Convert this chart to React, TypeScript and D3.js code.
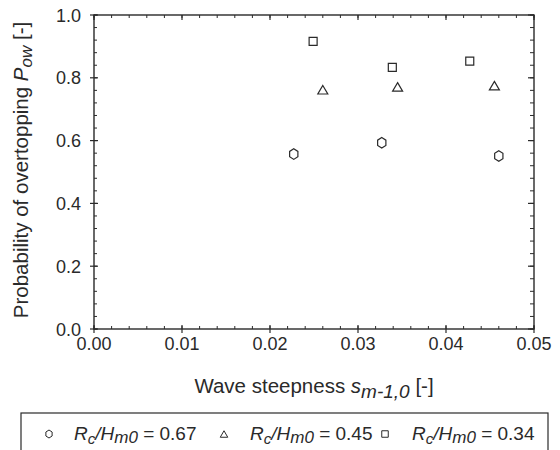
import React from "react";
import * as d3 from "d3";

const xTicks = [0, 0.01, 0.02, 0.03, 0.04, 0.05];
const yTicks = [0, 0.2, 0.4, 0.6, 0.8, 1.0];

const hexX = [0.0227, 0.0327, 0.046];
const hexY = [0.557, 0.593, 0.551];
const triX = [0.026, 0.0345, 0.0455];
const triY = [0.762, 0.771, 0.775];
const sqX = [0.0249, 0.0339, 0.0427];
const sqY = [0.916, 0.833, 0.853];

const legendValues = ["0.67", "0.45", "0.34"];

const W = 560;
const H = 450;
const L = 94, R = 534, T = 15, B = 329;

const x = d3.scaleLinear().domain([0, 0.05]).range([L, R]);
const y = d3.scaleLinear().domain([0, 1]).range([B, T]);

const ink = "#2a2a2a";
const font = "Arial, 'Liberation Sans', Helvetica, sans-serif";

function hexPath(cx: number, cy: number, r: number) {
  const pts: [number, number][] = [];
  for (let i = 0; i < 6; i++) {
    const a = (Math.PI / 3) * i - Math.PI / 2;
    pts.push([cx + r * 0.9 * Math.cos(a), cy + r * Math.sin(a)]);
  }
  return d3.line()(pts.concat([pts[0]])) + "Z";
}
function triPath(cx: number, cy: number, w: number, h: number) {
  const pts: [number, number][] = [
    [cx, cy - h / 2],
    [cx + w / 2, cy + h / 2],
    [cx - w / 2, cy + h / 2],
  ];
  return d3.line()(pts) + "Z";
}
function sqPath(cx: number, cy: number, s: number) {
  const pts: [number, number][] = [
    [cx - s / 2, cy - s / 2],
    [cx + s / 2, cy - s / 2],
    [cx + s / 2, cy + s / 2],
    [cx - s / 2, cy + s / 2],
  ];
  return d3.line()(pts) + "Z";
}

export default function App() {
  const xMinor = d3.range(0, 0.05 + 1e-9, 0.002);
  const yMinor = d3.range(0, 1 + 1e-9, 0.04);
  const fmt2 = d3.format(".2f");
  const fmt1 = d3.format(".1f");

  const legendItems = [
    { sx: 49, tx: 74 },
    { sx: 224, tx: 250 },
    { sx: 385, tx: 412 },
  ];
  const ly = 434;

  return (
    <svg width={W} height={H} style={{ position: "absolute", left: 0, top: 0, background: "#fff" }} fontFamily={font}>
      <rect x={0} y={0} width={W} height={H} fill="#fff" />
      {/* minor ticks */}
      {xMinor.map((v, i) => (
        <g key={"xm" + i} stroke={ink} strokeWidth={1}>
          <line x1={x(v)} x2={x(v)} y1={B} y2={B - 3} />
          <line x1={x(v)} x2={x(v)} y1={T} y2={T + 3} />
        </g>
      ))}
      {yMinor.map((v, i) => (
        <g key={"ym" + i} stroke={ink} strokeWidth={1}>
          <line x1={L} x2={L + 3} y1={y(v)} y2={y(v)} />
          <line x1={R} x2={R - 4} y1={y(v)} y2={y(v)} />
        </g>
      ))}
      {/* major ticks */}
      {xTicks.map((v, i) => (
        <g key={"xM" + i} stroke={ink} strokeWidth={1.2}>
          <line x1={x(v)} x2={x(v)} y1={B + 4} y2={B - 4} />
          <line x1={x(v)} x2={x(v)} y1={T} y2={T + 5} />
        </g>
      ))}
      {yTicks.map((v, i) => (
        <g key={"yM" + i} stroke={ink} strokeWidth={1.2}>
          <line x1={L - 4} x2={L + 4} y1={y(v)} y2={y(v)} />
          <line x1={R} x2={R - 6} y1={y(v)} y2={y(v)} />
        </g>
      ))}
      {/* frame */}
      <rect x={L} y={T} width={R - L} height={B - T} fill="none" stroke={ink} strokeWidth={1.4} />

      {/* tick labels */}
      {xTicks.map((v, i) => (
        <text key={"xl" + i} x={x(v)} y={350} textAnchor="middle" fontSize={18} fill={ink}>
          {fmt2(v)}
        </text>
      ))}
      {yTicks.map((v, i) => (
        <text key={"yl" + i} x={81} y={y(v) + 6.5} textAnchor="end" fontSize={18} fill={ink}>
          {fmt1(v)}
        </text>
      ))}

      {/* axis titles */}
      <text x={(L + R) / 2} y={393} textAnchor="middle" fontSize={20.5} fill={ink}>
        Wave steepness <tspan fontStyle="italic">s</tspan>
        <tspan fontStyle="italic" fontSize={19} dy={5}>m-1,0</tspan>
        <tspan dy={-5}> [-]</tspan>
      </text>
      <text
        transform={`translate(28, ${(T + B) / 2 - 2}) rotate(-90)`}
        textAnchor="middle"
        fontSize={20.5}
        fill={ink}
      >
        Probability of overtopping <tspan fontStyle="italic">P</tspan>
        <tspan fontStyle="italic" fontSize={17} dy={4}>ow</tspan>
        <tspan dy={-4}> [-]</tspan>
      </text>

      {/* data */}
      <g fill="none" stroke={ink} strokeWidth={1.2}>
        {hexX.map((v, i) => (
          <path key={"h" + i} d={hexPath(x(v), y(hexY[i]), 5.3)} />
        ))}
        {triX.map((v, i) => (
          <path key={"t" + i} d={triPath(x(v), y(triY[i]), 10, 8.5)} />
        ))}
        {sqX.map((v, i) => (
          <path key={"s" + i} d={sqPath(x(v), y(sqY[i]), 8)} />
        ))}
      </g>

      {/* legend */}
      <rect x={21} y={413} width={527} height={60} fill="none" stroke={ink} strokeWidth={1.2} />
      <g fill="none" stroke={ink} strokeWidth={1}>
        <path d={hexPath(legendItems[0].sx, ly, 4)} />
        <path d={triPath(legendItems[1].sx, ly, 7.5, 6.5)} />
        <path d={sqPath(legendItems[2].sx, ly, 6.5)} />
      </g>
      {legendItems.map((it, i) => (
        <text key={"lg" + i} x={it.tx} y={440} fontSize={19} fill={ink}>
          <tspan fontStyle="italic">R</tspan>
          <tspan fontStyle="italic" fontSize={15} dy={4}>c</tspan>
          <tspan fontStyle="italic" dy={-4}>/H</tspan>
          <tspan fontStyle="italic" fontSize={17} dy={3}>m0</tspan>
          <tspan dy={-3}>{" = " + legendValues[i]}</tspan>
        </text>
      ))}
    </svg>
  );
}
